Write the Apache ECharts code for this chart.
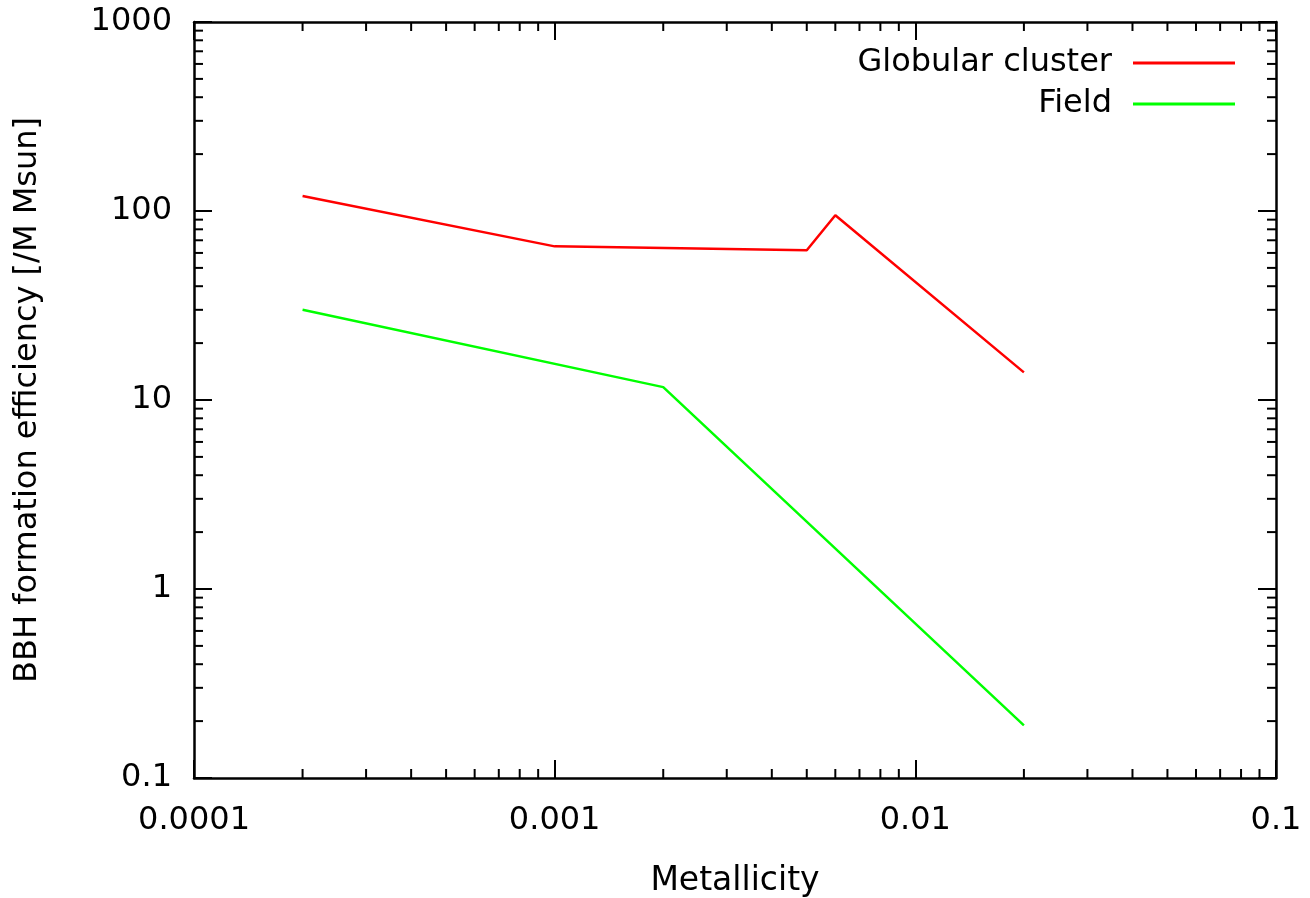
<!DOCTYPE html>
<html>
<head>
<meta charset="utf-8">
<script src="https://cdn.jsdelivr.net/npm/echarts@6/dist/echarts.min.js"></script>
<style>html,body{margin:0;padding:0;background:#fff;overflow:hidden}#c{width:1310px;height:898px}</style>
</head>
<body>
<div id="c"></div>
<script>
const seriesNames = ['Globular cluster', 'Field'];
const gcX = [0.0002, 0.001, 0.005, 0.006, 0.02];
const gcY = [120, 65, 62, 95, 14];
const fieldX = [0.0002, 0.002, 0.02];
const fieldY = [30, 11.7, 0.19];
const xTickLabels = ['0.0001', '0.001', '0.01', '0.1'];
const yTickLabels = ['0.1', '1', '10', '100', '1000'];
const xMinorTicks = [2e-4,3e-4,4e-4,5e-4,6e-4,7e-4,8e-4,9e-4,2e-3,3e-3,4e-3,5e-3,6e-3,7e-3,8e-3,9e-3,2e-2,3e-2,4e-2,5e-2,6e-2,7e-2,8e-2,9e-2];
const yMinorTicks = [0.2,0.3,0.4,0.5,0.6,0.7,0.8,0.9,2,3,4,5,6,7,8,9,20,30,40,50,60,70,80,90,200,300,400,500,600,700,800,900];

const FONT = 'DejaVu Sans';
const FS = 32;
const xMin = 0.0001, xMax = 0.1, yMin = 0.1, yMax = 1000;

function xFmt(v){ const i = Math.round(Math.log10(v) + 4); return xTickLabels[i] || ''; }
function yFmt(v){ const i = Math.round(Math.log10(v) + 1); return yTickLabels[i] || ''; }

const axisLine = {show: true, onZero: false, lineStyle: {color: '#000', width: 2.5}};
const majorTick = {show: true, inside: true, length: 18, lineStyle: {color: '#000', width: 2}};

const chart = echarts.init(document.getElementById('c'), null, {renderer: 'canvas', width: 1310, height: 898});
const minorLen = 9;

chart.setOption({
  animation: false,
  backgroundColor: '#fff',
  grid: {left: 194, width: 1082, top: 22, height: 756, containLabel: false, outerBoundsMode: 'none'},
  legend: {
    orient: 'vertical', right: 70, top: 42, align: 'right',
    itemWidth: 102, itemHeight: 3, itemGap: 9, icon: 'rect',
    textStyle: {fontFamily: FONT, fontSize: FS, color: '#000', lineHeight: 32, padding: [0, 16, 0, 0]},
    data: seriesNames
  },
  xAxis: [
    {type: 'log', logBase: 10, min: xMin, max: xMax, position: 'bottom',
     name: 'Metallicity', nameLocation: 'middle', nameGap: 87,
     nameTextStyle: {fontFamily: FONT, fontSize: 33, color: '#000'},
     axisLine: axisLine, axisTick: majorTick,
     axisLabel: {formatter: xFmt, fontFamily: FONT, fontSize: FS, color: '#000', margin: 27},
     splitLine: {show: false}, minorTick: {show: false}},
    {type: 'log', logBase: 10, min: xMin, max: xMax, position: 'top',
     axisLine: axisLine, axisTick: majorTick, axisLabel: {show: false}, splitLine: {show: false}}
  ],
  yAxis: [
    {type: 'log', logBase: 10, min: yMin, max: yMax, position: 'left',
     name: 'BBH formation efficiency [/M Msun]', nameLocation: 'middle', nameGap: 150, nameRotate: 90,
     nameTextStyle: {fontFamily: FONT, fontSize: FS, color: '#000'},
     axisLine: axisLine, axisTick: majorTick,
     axisLabel: {formatter: yFmt, fontFamily: FONT, fontSize: FS, color: '#000', margin: 22},
     splitLine: {show: false}},
    {type: 'log', logBase: 10, min: yMin, max: yMax, position: 'right',
     axisLine: axisLine, axisTick: majorTick, axisLabel: {show: false}, splitLine: {show: false}}
  ],
  series: [
    {name: seriesNames[0], type: 'line', data: gcX.map((x, i) => [x, gcY[i]]),
     showSymbol: false, symbol: 'none', lineStyle: {color: '#ff0000', width: 2.5}, itemStyle: {color: '#ff0000'}},
    {name: seriesNames[1], type: 'line', data: fieldX.map((x, i) => [x, fieldY[i]]),
     showSymbol: false, symbol: 'none', lineStyle: {color: '#00ff00', width: 2.5}, itemStyle: {color: '#00ff00'}},
    {type: 'custom', silent: true, clip: false, legendHoverLink: false,
     data: xMinorTicks.map(v => [v, yMin]),
     renderItem: function(params, api){
       const v = api.value(0);
       const b = api.coord([v, yMin]);
       const t = api.coord([v, yMax]);
       const st = {stroke: '#000', lineWidth: 2};
       return {type: 'group', children: [
         {type: 'line', shape: {x1: b[0], y1: b[1], x2: b[0], y2: b[1] - minorLen}, style: st},
         {type: 'line', shape: {x1: t[0], y1: t[1], x2: t[0], y2: t[1] + minorLen}, style: st}
       ]};
     }},
    {type: 'custom', silent: true, clip: false, legendHoverLink: false,
     data: yMinorTicks.map(v => [xMin, v]),
     renderItem: function(params, api){
       const v = api.value(1);
       const l = api.coord([xMin, v]);
       const r = api.coord([xMax, v]);
       const st = {stroke: '#000', lineWidth: 2};
       return {type: 'group', children: [
         {type: 'line', shape: {x1: l[0], y1: l[1], x2: l[0] + minorLen, y2: l[1]}, style: st},
         {type: 'line', shape: {x1: r[0], y1: r[1], x2: r[0] - minorLen, y2: r[1]}, style: st}
       ]};
     }}
  ]
});
</script>
</body>
</html>
